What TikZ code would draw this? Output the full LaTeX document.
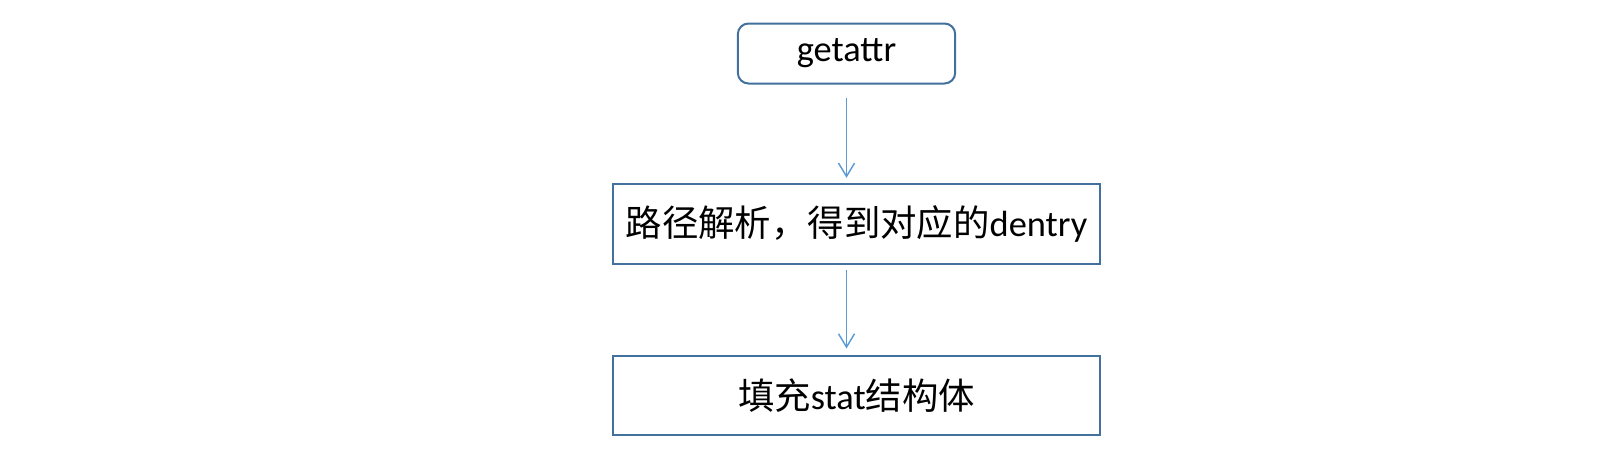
\documentclass[tikz,border=0pt]{standalone}
\usepackage{fontspec}
\setmainfont{Carlito}
\newfontfamily\cjk{Noto Sans CJK SC}
\definecolor{boxblue}{RGB}{65, 113, 156}
\definecolor{arrowblue}{RGB}{91, 155, 213}
\usetikzlibrary{arrows.meta, positioning}

\tikzset{
  stepbox/.style={draw=boxblue, line width=1.5pt, fill=white, align=center, inner sep=0pt,
    font=\fontsize{27.3}{32}\selectfont},
  flowarrow/.style={draw=arrowblue, line width=1.1pt, -{Straight Barb[length=10pt, width=12pt]}}
}

\begin{document}
\begin{tikzpicture}[x=0.75pt, y=-0.75pt]
  \useasboundingbox (0, 0) rectangle (1600, 465);

  % getattr
  \node[stepbox, rounded corners=8pt, minimum width=163pt, minimum height=45pt] (getattr) at (846.5, 53.5) {getattr};

  % path lookup
  \node[stepbox, minimum width=365pt, minimum height=60pt] (lookup) at (856.5, 223.5) {{\cjk 路径解析，得到对应的}dentry};

  % fill stat
  \node[stepbox, minimum width=365pt, minimum height=59pt] (fillstat) at (856.5, 395.5) {{\cjk 填充}stat{\cjk 结构体}};

  % arrows
  \draw[flowarrow, shorten <=10pt, shorten >=3.5pt] (getattr.south) -- (getattr.south |- lookup.north);
  \draw[flowarrow, shorten <=4pt, shorten >=5pt] (getattr.south |- lookup.south) -- (getattr.south |- fillstat.north);
\end{tikzpicture}
\end{document}
